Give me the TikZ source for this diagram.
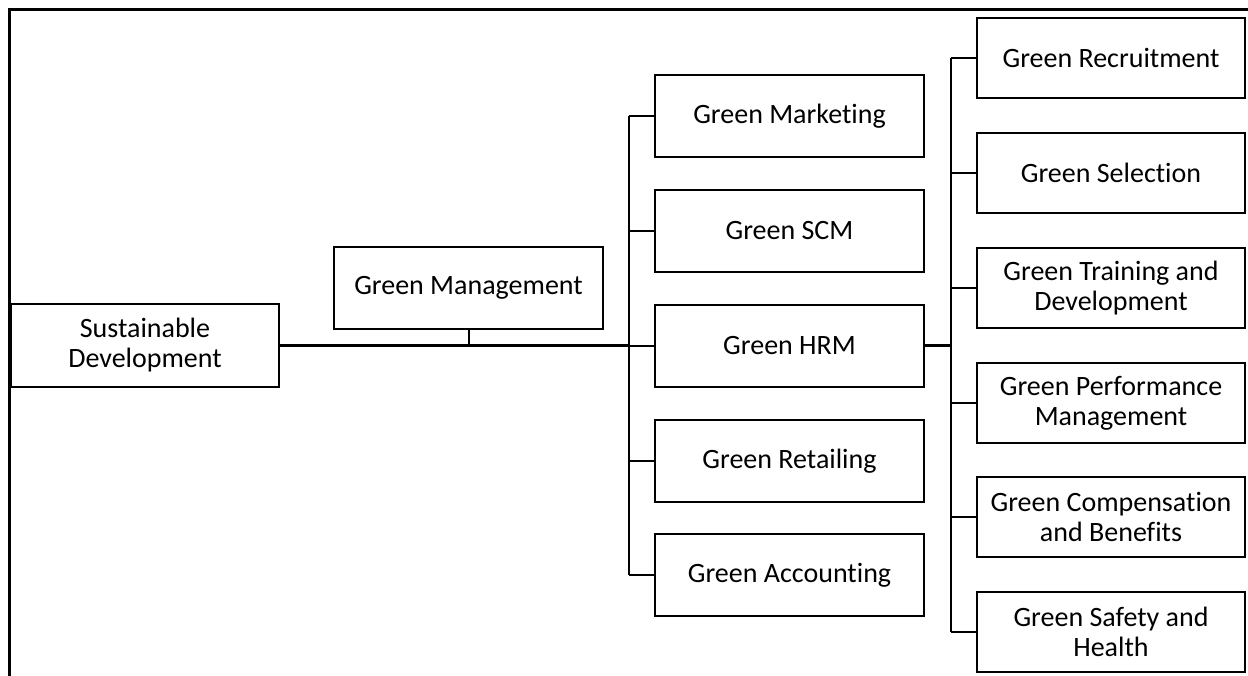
\documentclass[tikz,border=0pt]{standalone}
\usepackage{fontspec}
\setmainfont[Ligatures={NoCommon,NoContextual}]{Carlito}
\begin{document}
\begin{tikzpicture}[x=1pt,y=-1pt,
  box/.style={draw=black, line width=2pt, rectangle, align=center,
    font=\fontsize{28}{30}\selectfont, inner sep=0pt},
  midbox/.style={box, minimum width=269pt, minimum height=82pt},
  rightbox/.style={box, minimum width=268pt, minimum height=80pt},
  link/.style={draw=black, line width=2pt},
  mainlink/.style={draw=black, line width=3pt}]
\useasboundingbox (0,0) rectangle (1248,676);

% cropped outer frame
\draw[line width=3pt] (9.5,676) -- (9.5,9.5) -- (1248,9.5);

% root and its parent line
\node[box, minimum width=268pt, minimum height=83pt] (sd) at (145,345.5) {Sustainable\\Development};
\node[box, minimum width=269pt, minimum height=82pt] (gm) at (468.5,288) {Green Management};

% middle column
\node[midbox] (mk) at (789.5,116) {Green Marketing};
\node[midbox] (scm) at (789.5,231) {Green SCM};
\node[midbox] (hrm) at (789.5,346) {Green HRM};
\node[midbox] (rt) at (789.5,461) {Green Retailing};
\node[midbox] (ac) at (789.5,575) {Green Accounting};

% right column
\node[rightbox] (rc) at (1111,58) {Green Recruitment};
\node[rightbox] (sel) at (1111,173) {Green Selection};
\node[rightbox] (trn) at (1111,288) {Green Training and\\Development};
\node[rightbox] (perf) at (1111,403) {Green Performance\\Management};
\node[rightbox] (comp) at (1111,517) {Green Compensation\\and Benefits};
\node[rightbox] (safe) at (1111,632) {Green Safety and\\Health};

% trunk positions
\coordinate (t1) at (629,346);
\coordinate (t2) at (951,346);

% connectors from the root
\draw[mainlink] (sd.east) -- (sd.east -| t1);
\draw[link] (gm.south) -- (gm.south |- sd.east);

% first trunk and its branches
\draw[link] (mk.west -| t1) -- (ac.west -| t1);
\foreach \n in {mk,scm,hrm,rt,ac}
  \draw[link] (\n.west -| t1) -- (\n.west);

% second trunk and its branches
\draw[mainlink] (hrm.east) -- (t2);
\draw[link] (rc.west -| t2) -- (safe.west -| t2);
\foreach \n in {rc,sel,trn,perf,comp,safe}
  \draw[link] (\n.west -| t2) -- (\n.west);
\end{tikzpicture}
\end{document}
